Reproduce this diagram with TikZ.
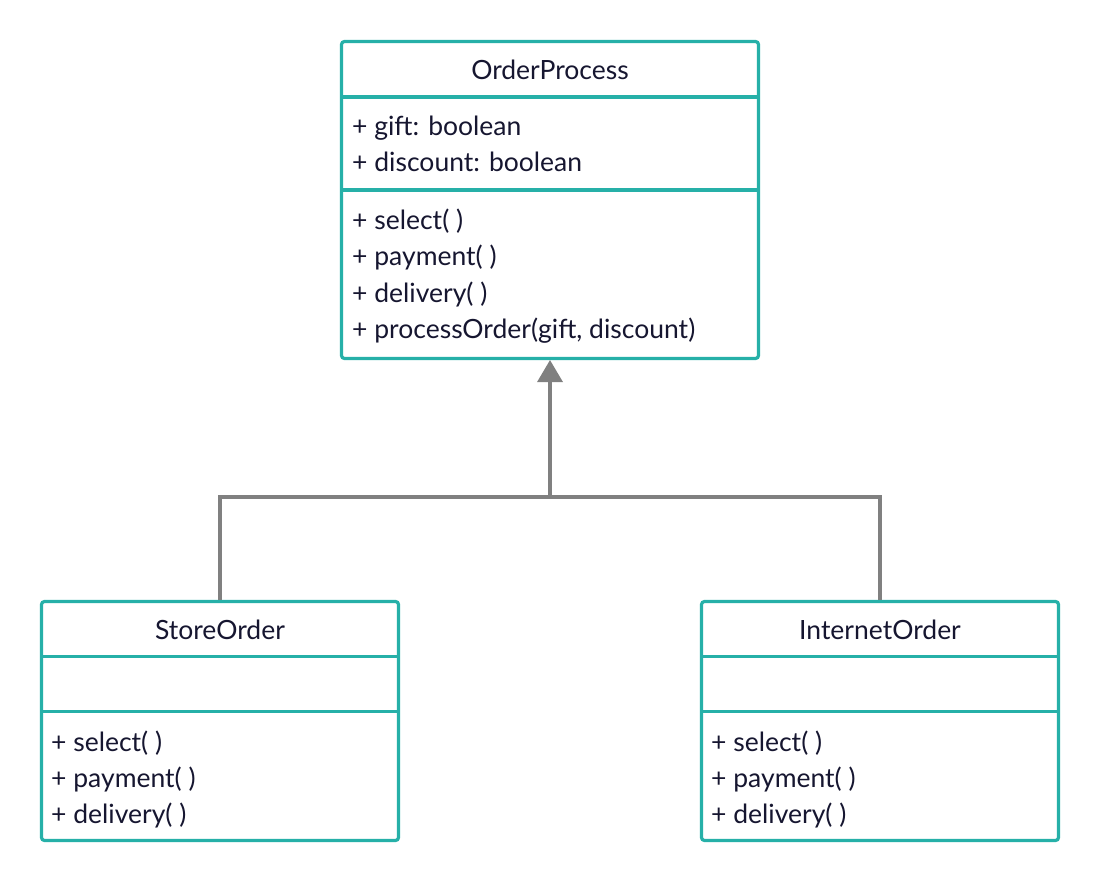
\documentclass[tikz,border=0pt]{standalone}
\usepackage{fontspec}
\setmainfont{Lato}
\usetikzlibrary{arrows.meta}
\definecolor{tealline}{RGB}{38,176,168}
\definecolor{ink}{RGB}{22,22,48}
\definecolor{conn}{RGB}{128,128,128}
\begin{document}
\begin{tikzpicture}[x=1pt,y=-1pt,
  box/.style={draw=tealline,line width=3.2pt,rounded corners=3pt,fill=white,inner sep=0pt,outer sep=0pt,anchor=north west},
  divider/.style={draw=tealline,line width=3.2pt},
  txt/.style={anchor=base west,inner sep=0pt,text=ink,font=\fontsize{26.5}{30}\selectfont},
  ttl/.style={anchor=base,inner sep=0pt,text=ink,font=\fontsize{26.5}{30}\selectfont},
  link/.style={draw=conn,line width=3.2pt,line join=miter}]
\useasboundingbox[fill=white] (0,0) rectangle (1100,883);

% boxes
\node[box,minimum width=417pt,minimum height=317pt] (op) at (341.5,41.5) {};
\node[box,minimum width=357pt,minimum height=239pt] (so) at (41.5,601.5) {};
\node[box,minimum width=357pt,minimum height=239pt] (io) at (701.5,601.5) {};

% dividers
\draw[divider] (341.5,97) -- (758.5,97);
\draw[divider] (341.5,190) -- (758.5,190);
\draw[divider] (41.5,656.5) -- (398.5,656.5);
\draw[divider] (41.5,711.5) -- (398.5,711.5);
\draw[divider] (701.5,656.5) -- (1058.5,656.5);
\draw[divider] (701.5,711.5) -- (1058.5,711.5);

% OrderProcess texts
\node[ttl] (opt) at (550,80) {OrderProcess};
\node[txt] (opa1) at (352,135) {+ gift: boolean};
\node[txt] (opa2) at (352,171.5) {+ discount: boolean};
\node[txt] (opm1) at (352,229) {+ select( )};
\node[txt] (opm2) at (352,265.5) {+ payment( )};
\node[txt] (opm3) at (352,302) {+ delivery( )};
\node[txt] (opm4) at (352,338.5) {+ processOrder(gift, discount)};

% StoreOrder texts
\node[ttl] (sot) at (220,639) {StoreOrder};
\node[txt] (som1) at (51,751.5) {+ select( )};
\node[txt] (som2) at (51,787.5) {+ payment( )};
\node[txt] (som3) at (51,823.5) {+ delivery( )};

% InternetOrder texts
\node[ttl] (iot) at (880,639) {InternetOrder};
\node[txt] (iom1) at (711,751.5) {+ select( )};
\node[txt] (iom2) at (711,787.5) {+ payment( )};
\node[txt] (iom3) at (711,823.5) {+ delivery( )};

% connectors
\coordinate (j) at (550,497);
\draw[link] ([yshift=1.6pt]so.north) -- (so.north |- j) -- (io.north |- j) -- ([yshift=1.6pt]io.north);
\draw[link,-{Triangle[width=26pt,length=22pt,line width=0pt]},shorten >=1.6pt] (j) -- (op.south);
\end{tikzpicture}
\end{document}
